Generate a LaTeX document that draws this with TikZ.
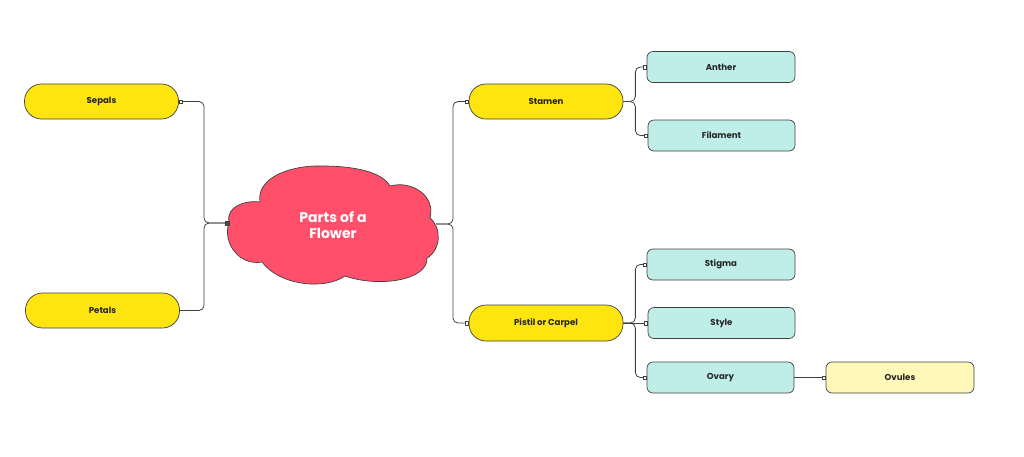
\documentclass[tikz,border=0pt]{standalone}
\usepackage{fontspec}
\setmainfont{Poppins}
\begin{document}
\begin{tikzpicture}[x=1pt,y=-1pt,
  every node/.style={font=\bfseries\fontsize{8.6}{10}\selectfont, text=black!85},
  pill/.style={draw=black!75, line width=0.7pt, fill=yel, rounded corners=17pt, minimum width=154pt, minimum height=35pt, inner sep=0pt},
  leaf/.style={draw=black!75, line width=0.7pt, fill=cyanl, rounded corners=6pt, minimum width=147pt, minimum height=31pt, inner sep=0pt},
  leafy/.style={leaf, fill=paley},
  conn/.style={draw=black!75, line width=0.8pt, rounded corners=5pt},
  tip/.style={draw=black!75, fill=white, line width=0.5pt, rectangle, minimum size=3.5pt, inner sep=0pt},
  tipdark/.style={tip, fill=black!70}
]
\definecolor{yel}{HTML}{FFE50F}
\definecolor{cyanl}{HTML}{BFEEE9}
\definecolor{paley}{HTML}{FFF8B8}
\definecolor{rosec}{HTML}{FF4F6B}
\useasboundingbox (0,0) rectangle (1024,456);

% cloud
\draw[draw=black!75, line width=0.7pt, fill=rosec]
  (229,222) .. controls (226,207) and (244,200) .. (260,202)
  .. controls (256,178) and (290,165) .. (322,166)
  .. controls (355,166) and (382,172) .. (390,186)
  .. controls (412,180) and (436,196) .. (430,218)
  .. controls (442,228) and (441,250) .. (427,258)
  .. controls (428,280) and (380,288) .. (345,276)
  .. controls (325,290) and (280,286) .. (262,262)
  .. controls (240,266) and (222,244) .. (229,222) -- cycle;
\coordinate (cloudL) at (229,223);
\coordinate (cloudR) at (436,224);
\node[text=white, font=\bfseries\fontsize{14}{16}\selectfont, align=center] (center) at (333,225) {Parts of a\\Flower};

% nodes
\node[pill] (sepals) at (101.5,101.5) {Sepals};
\node[pill] (petals) at (102.5,310.5) {Petals};
\node[pill] (stamen) at (546,101.5) {Stamen};
\node[pill, minimum height=36pt] (pistil) at (546,323) {Pistil or Carpel};
\node[leaf, minimum width=148pt] (anther) at (721,67) {Anther};
\node[leaf] (filament) at (721.5,135.5) {Filament};
\node[leaf, minimum width=148pt] (stigma) at (721,264.5) {Stigma};
\node[leaf] (style) at (721.5,323) {Style};
\node[leaf] (ovary) at (720.5,377.5) {Ovary};
\node[leafy, minimum width=148pt] (ovules) at (900,377.5) {Ovules};

% connectors
\draw[conn] (cloudL) -- ([xshift=-25pt]cloudL) |- (sepals.east);
\draw[conn] (cloudL) -- ([xshift=-25pt]cloudL) |- (petals.east);
\draw[conn] (cloudR) -- ([xshift=17pt]cloudR) |- (stamen.west);
\draw[conn] (cloudR) -- ([xshift=17pt]cloudR) |- (pistil.west);
\draw[conn] (stamen.east) -- ([xshift=12pt]stamen.east) |- (anther.west);
\draw[conn] (stamen.east) -- ([xshift=12pt]stamen.east) |- (filament.west);
\draw[conn] (pistil.east) -- ([xshift=12pt]pistil.east) |- (stigma.west);
\draw[conn] (pistil.east) -- (style.west);
\draw[conn] (pistil.east) -- ([xshift=12pt]pistil.east) |- (ovary.west);
\draw[conn] (ovary.east) -- (ovules.west);

% end markers
\node[tip, anchor=west] (t1) at (sepals.east) {};
\node[tipdark, anchor=east] (t2) at (cloudL) {};
\node[tip, anchor=east] (t3) at (stamen.west) {};
\node[tip, anchor=east] (t4) at (pistil.west) {};
\node[tip, anchor=east] (t5) at (anther.west) {};
\node[tip, anchor=east] (t6) at (filament.west) {};
\node[tip, anchor=east] (t7) at (stigma.west) {};
\node[tip, anchor=east] (t8) at (style.west) {};
\node[tip, anchor=east] (t9) at (ovary.west) {};
\node[tip, anchor=east] (t10) at (ovules.west) {};
\end{tikzpicture}
\end{document}
